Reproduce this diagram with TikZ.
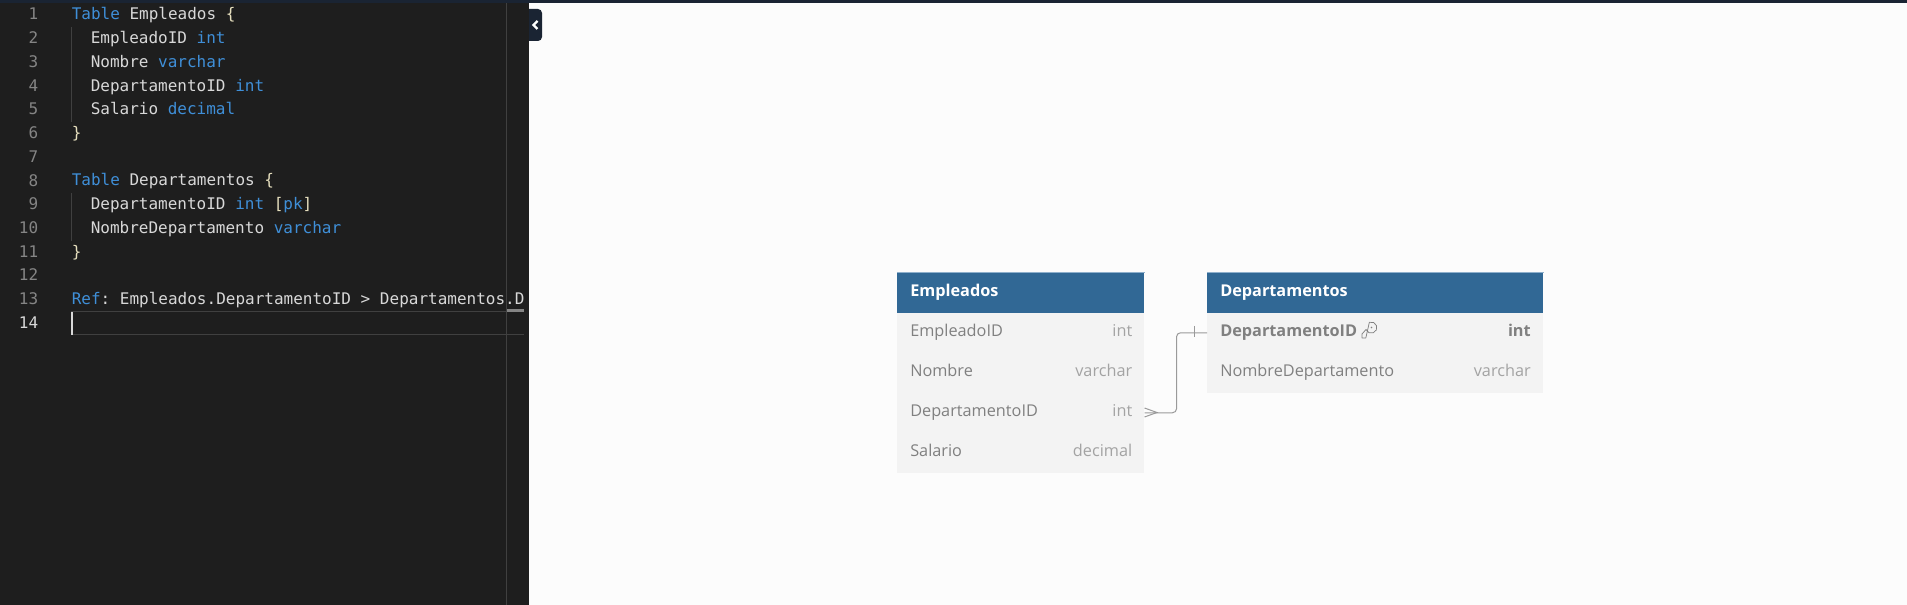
\documentclass[tikz,border=0pt]{standalone}
\usepackage{fontspec}
\setmainfont{Open Sans}
\setmonofont{DejaVu Sans Mono}
\definecolor{editorbg}{HTML}{1E1E1E}
\definecolor{topbar}{HTML}{1A2433}
\definecolor{canvasbg}{HTML}{FCFCFC}
\definecolor{keyword}{HTML}{3F8FD8}
\definecolor{codetext}{HTML}{D8D8D8}
\definecolor{bracket}{HTML}{E6DFBE}
\definecolor{linenum}{HTML}{858585}
\definecolor{guide}{HTML}{404040}
\definecolor{headblue}{HTML}{316895}
\definecolor{headedge}{HTML}{8FB0CC}
\definecolor{rowlight}{HTML}{F3F3F3}
\definecolor{fieldgray}{HTML}{808080}
\definecolor{typegray}{HTML}{A3A3A3}
\definecolor{linkgray}{HTML}{9A9A9A}
\tikzset{
  codeline/.style={anchor=base west, inner sep=0pt, text=codetext, font=\ttfamily\fontsize{12}{14}\selectfont},
  linenumber/.style={anchor=base east, inner sep=0pt, text=linenum, font=\ttfamily\fontsize{12}{14}\selectfont},
  head/.style={anchor=north west, inner sep=0pt, fill=headblue, minimum height=30pt},
  headtext/.style={anchor=base west, inner sep=0pt, text=white, font=\bfseries\fontsize{12.2}{14}\selectfont},
  row/.style={anchor=north west, inner sep=0pt, fill=rowlight, minimum height=30pt},
  field/.style={anchor=base west, inner sep=0pt, text=fieldgray, font=\fontsize{12.2}{14}\selectfont},
  fieldtype/.style={anchor=base east, inner sep=0pt, text=typegray, font=\fontsize{12.2}{14}\selectfont},
  link/.style={draw=linkgray, line width=0.75pt}
}
\newcommand{\kw}[1]{\textcolor{keyword}{#1}}
\newcommand{\br}[1]{\textcolor{bracket}{#1}}
\begin{document}
\begin{tikzpicture}[x=0.75pt, y=-0.75pt]
  \useasboundingbox (0,0) rectangle (1907,605);

  % Backgrounds
  \fill[canvasbg] (0,0) rectangle (1907,605);
  \fill[editorbg] (0,0) rectangle (529,605);
  \fill[topbar] (0,0) rectangle (1907,3);

  % Current line and indent guides
  \draw[guide, line width=0.75pt] (71,312) -- (524,312);
  \draw[guide, line width=0.75pt] (71,334.5) -- (524,334.5);
  \draw[guide, line width=0.75pt] (71.5,27) -- (71.5,122);
  \draw[guide, line width=0.75pt] (71.5,193) -- (71.5,241);
  \draw[guide, line width=0.75pt] (506.5,3) -- (506.5,605);
  \fill[linenum] (507,309.5) rectangle (524,312);

  % Line numbers
  \foreach \n in {1,...,13}
    \node[linenumber] (num\n) at (38.5, {20+23.72*(\n-1)}) {\n};
  \node[linenumber, text=codetext] (num14) at (38.5, 328.5) {14};

  % Code
  \node[codeline] (lineA) at (71.5, 20) {\kw{Table} Empleados \br{\{}};
  \node[codeline] (lineB) at (90.5, 43.7) {EmpleadoID \kw{int}};
  \node[codeline] (lineC) at (90.5, 67.4) {Nombre \kw{varchar}};
  \node[codeline] (lineD) at (90.5, 91.2) {DepartamentoID \kw{int}};
  \node[codeline] (lineE) at (90.5, 114.9) {Salario \kw{decimal}};
  \node[codeline] (lineF) at (71.5, 138.6) {\br{\}}};
  \node[codeline] (lineH) at (71.5, 186) {\kw{Table} Departamentos \br{\{}};
  \node[codeline] (lineI) at (90.5, 209.8) {DepartamentoID \kw{int} \br{[}\kw{pk}\br{]}};
  \node[codeline] (lineJ) at (90.5, 233.5) {NombreDepartamento \kw{varchar}};
  \node[codeline] (lineK) at (71.5, 257.2) {\br{\}}};
  \node[codeline] (lineM) at (71.5, 304.6) {\kw{Ref}: Empleados.DepartamentoID > Departamentos.D};

  % Cursor
  \draw[codetext, line width=1pt] (72,312) -- (72,335);

  % Collapse button
  \fill[topbar, rounded corners=3pt] (525,9) -- (542,9) -- (542,41) -- (525,41) -- cycle;
  \fill[editorbg] (525,5) rectangle (529,45);
  \draw[white, line width=1.7pt] (537.5,21) -- (533.5,25) -- (537.5,29);

  % Table Empleados
  \node[head, minimum width=185.25pt] (empHead) at (897,272.5) {};
  \draw[headedge, line width=0.5pt] (empHead.north west) -- (empHead.north east);
  \node[headtext] (empTitle) at (910,296.5) {Empleados};
  \foreach \nm/\fld/\typ/\yy in {empId/EmpleadoID/int/312.5, empName/Nombre/varchar/352.5, empDept/DepartamentoID/int/392.5, empSal/Salario/decimal/432.5} {
    \node[row, minimum width=185.25pt] (\nm) at (897,\yy) {};
    \node[field] (\nm F) at (910,\yy+24) {\fld};
    \node[fieldtype] (\nm T) at (1132.5,\yy+24) {\typ};
  }

  % Table Departamentos
  \node[head, minimum width=252pt] (depHead) at (1207,272.5) {};
  \draw[headedge, line width=0.5pt] (depHead.north west) -- (depHead.north east);
  \node[headtext] (depTitle) at (1220,296.5) {Departamentos};
  \node[row, minimum width=252pt] (depId) at (1207,312.5) {};
  \node[field, font=\bfseries\fontsize{12.2}{14}\selectfont] (depIdF) at (1220,336.5) {DepartamentoID};
  \node[fieldtype, font=\bfseries\fontsize{12.2}{14}\selectfont, text=fieldgray] (depIdT) at (1531,336.5) {int};
  \node[row, minimum width=252pt] (depName) at (1207,352.5) {};
  \node[field] (depNameF) at (1220,376.5) {NombreDepartamento};
  \node[fieldtype] (depNameT) at (1531,376.5) {varchar};

  % Key icon
  \draw[fieldgray, line width=0.55pt, line join=round] (1366,329.5) arc (200:470:4.2pt) -- (1365.8,338) -- (1362,338) -- (1362,334) -- cycle;
  \fill[fieldgray] (1371.5,327.5) circle (0.7pt);

  % Relation
  \draw[link, rounded corners=3pt] (empDept.east) -- ++(32,0) |- (depId.west);
  \draw[link] (1144.5,408) -- (1157,412.5) -- (1144.5,417);
  \draw[link] (1194,326) -- (1194,337);
\end{tikzpicture}
\end{document}
